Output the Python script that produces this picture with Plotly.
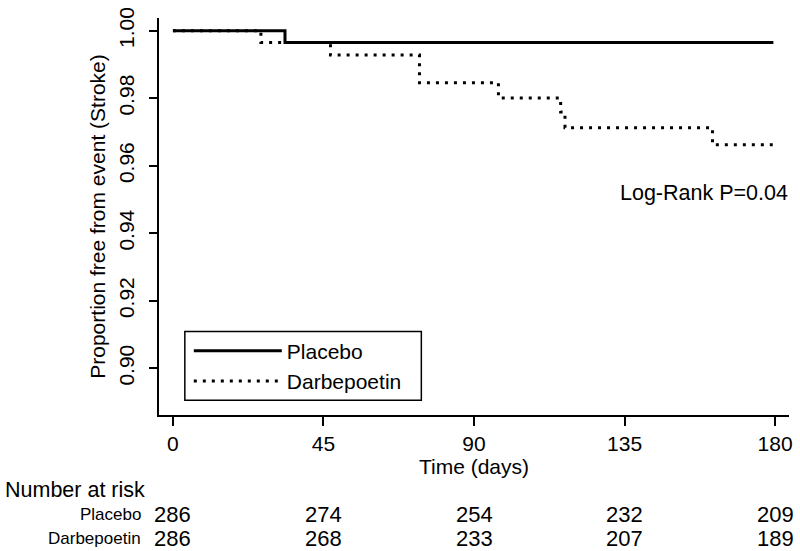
import plotly.graph_objects as go

# ---- data ----
placebo_t = [0, 33.5, 179.5]
placebo_s = [1.0, 0.9965, 0.9965]

darbe_t = [0, 26.3, 47.1, 73.7, 97.3, 115.9, 117.2, 161.3, 179.3]
darbe_s = [1.0, 0.9965, 0.9928, 0.9846, 0.9801, 0.9759, 0.9713, 0.9662, 0.9662]

x_ticks = [0, 45, 90, 135, 180]
y_ticks = [0.90, 0.92, 0.94, 0.96, 0.98, 1.00]
y_tick_text = ["0.90", "0.92", "0.94", "0.96", "0.98", "1.00"]

risk_groups = ["Placebo", "Darbepoetin"]
risk_placebo = [286, 274, 254, 232, 209]
risk_darbe = [286, 268, 233, 207, 189]

FONT = "Liberation Sans, Arial, sans-serif"

fig = go.Figure()
fig.add_trace(go.Scatter(x=placebo_t, y=placebo_s, mode="lines", name="Placebo",
                         line=dict(color="black", width=3, shape="hv")))
fig.add_trace(go.Scatter(x=darbe_t, y=darbe_s, mode="lines", name="Darbepoetin",
                         line=dict(color="black", width=3, shape="hv", dash="3px,6px")))

plot_h = 404.0
plot_w = 634.0
def py(pix):
    return (415.0 - pix) / plot_h
def px(pix):
    return (pix - 159.0) / plot_w

# Log-rank annotation
fig.add_annotation(x=px(794), y=py(189), xref="paper", yref="paper", text="Log-Rank P=0.04",
                   showarrow=False, xanchor="right", yanchor="middle",
                   font=dict(size=21.5, color="black", family=FONT))

# Number at risk table
fig.add_annotation(x=px(2), y=py(491), xref="paper", yref="paper", text="Number at risk",
                   showarrow=False, xanchor="left", yanchor="middle",
                   font=dict(size=21.5, color="black", family=FONT))
rows = [risk_placebo, risk_darbe]
row_y = [516, 541]
for name, vals, yy in zip(risk_groups, rows, row_y):
    fig.add_annotation(x=px(143), y=py(yy), xref="paper", yref="paper", text=name,
                       showarrow=False, xanchor="right", yanchor="middle",
                       font=dict(size=17, color="black", family=FONT))
    for t, v in zip(x_ticks, vals):
        fig.add_annotation(x=t, y=py(yy), xref="x", yref="paper", text=str(v),
                           showarrow=False, xanchor="center", yanchor="middle",
                           font=dict(size=22, color="black", family=FONT))

# legend frame
fig.add_shape(type="rect", xref="paper", yref="paper",
              x0=px(185), x1=px(423), y0=py(400), y1=py(330),
              line=dict(color="black", width=1.5), fillcolor="rgba(0,0,0,0)")

fig.update_layout(
    width=800, height=551,
    margin=dict(l=159, r=7, t=11, b=136),
    paper_bgcolor="white", plot_bgcolor="white",
    font=dict(family=FONT, size=21, color="black"),
    showlegend=True,
    legend=dict(x=px(189), y=py(329), xanchor="left", yanchor="top",
                borderwidth=0, bgcolor="rgba(0,0,0,0)",
                font=dict(size=21, family=FONT), itemwidth=88,
                tracegroupgap=0),
    xaxis=dict(range=[-4.16, 184.16], tickmode="array", tickvals=x_ticks,
               ticks="outside", ticklen=9, tickwidth=1.5, tickcolor="black",
               showline=True, linecolor="black", linewidth=1.5,
               showgrid=False, zeroline=False,
               tickfont=dict(size=21, family=FONT),
               title=dict(text="Time (days)", font=dict(size=21, family=FONT), standoff=0)),
    yaxis=dict(range=[0.88617, 1.00378], tickmode="array", tickvals=y_ticks,
               ticktext=y_tick_text, tickangle=-90, ticklabelstandoff=7,
               ticks="outside", ticklen=8, tickwidth=1.5, tickcolor="black",
               showline=True, linecolor="black", linewidth=1.5,
               showgrid=False, zeroline=False,
               tickfont=dict(size=21, family=FONT),
               title=dict(text="Proportion free from event (Stroke)",
                          font=dict(size=21, family=FONT), standoff=3)),
)

fig.write_html("out.html", config={"displayModeBar": False},
               post_script="document.body.style.margin='0px';document.body.style.overflow='hidden';")
